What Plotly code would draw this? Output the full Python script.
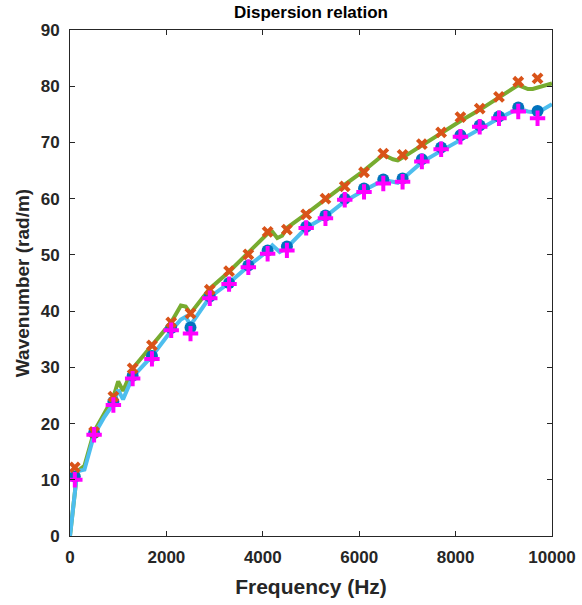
import plotly.graph_objects as go

# marker frequencies (Hz)
f_pts = [100, 500, 900, 1300, 1700, 2100, 2500, 2900, 3300, 3700, 4100, 4500, 4900,
         5300, 5700, 6100, 6500, 6900, 7300, 7700, 8100, 8500, 8900, 9300, 9700]
k_x = [12.2, 18.5, 24.8, 29.8, 33.9, 38.0, 39.6, 43.8, 47.1, 50.1, 54.1, 54.5, 57.2,
       60.0, 62.2, 64.7, 68.0, 67.8, 69.7, 71.8, 74.5, 76.0, 78.1, 80.8, 81.4]
k_o = [10.6, 18.3, 23.9, 28.5, 32.0, 37.0, 37.1, 42.6, 45.0, 48.1, 50.8, 51.5, 55.0,
       57.0, 60.0, 61.8, 63.4, 63.6, 67.0, 69.1, 71.3, 73.0, 74.6, 76.2, 75.6]
k_p = [10.0, 18.0, 23.3, 28.0, 31.5, 36.6, 36.0, 42.3, 44.8, 47.8, 50.2, 50.8, 54.8,
       56.5, 59.8, 61.2, 62.7, 63.0, 66.6, 68.8, 71.0, 72.8, 74.3, 75.5, 74.3]

# green curve
f_g = [0, 150, 300, 500, 700, 900, 1000, 1100, 1300, 1700, 2100, 2300, 2400, 2500, 2900,
       3300, 3700, 4100, 4200, 4300, 4400, 4500, 4900, 5300, 5700, 6100, 6500, 6700, 6800,
       6900, 7300, 7700, 8100, 8500, 8900, 9200, 9300, 9500, 9600, 10000]
k_g = [0, 11.5, 12.5, 18.6, 21.6, 24.7, 27.5, 25.8, 29.8, 34.0, 38.0, 41.0, 40.8, 39.6, 44.0,
       47.0, 50.3, 53.8, 54.1, 53.0, 53.4, 54.8, 57.3, 60.0, 62.5, 65.0, 67.8, 67.0, 66.8,
       67.3, 69.5, 71.6, 73.8, 75.8, 78.0, 79.8, 80.2, 79.5, 79.5, 80.5]

# cyan curve
f_c = [0, 150, 300, 500, 700, 900, 1000, 1100, 1300, 1700, 2100, 2300, 2400, 2500, 2900,
       3300, 3700, 4100, 4200, 4350, 4500, 4900, 5300, 5700, 6100, 6500, 6700, 6800, 6900,
       7300, 7700, 8100, 8500, 8900, 9300, 9500, 9700, 10000]
k_c = [0, 11.5, 11.8, 18.0, 21.0, 23.5, 26.0, 24.3, 28.3, 32.0, 36.5, 38.5, 39.0, 37.5, 42.5,
       45.0, 48.0, 50.7, 51.7, 50.5, 51.3, 54.8, 56.8, 59.5, 61.5, 63.3, 63.0, 62.8, 63.5,
       66.5, 68.5, 70.5, 72.5, 74.3, 76.0, 75.5, 75.3, 76.8]

x_ticks = [0, 2000, 4000, 6000, 8000, 10000]
y_ticks = [0, 10, 20, 30, 40, 50, 60, 70, 80, 90]

FONT = "Liberation Sans, Arial"

fig = go.Figure()
fig.add_trace(go.Scatter(x=f_g, y=k_g, mode="lines", line=dict(color="#77AC30", width=4)))
fig.add_trace(go.Scatter(x=f_c, y=k_c, mode="lines", line=dict(color="#4DBEEE", width=4)))
fig.add_trace(go.Scatter(x=f_pts, y=k_o, mode="markers",
                         marker=dict(symbol="circle", size=12, color="#0072BD")))
fig.add_trace(go.Scatter(x=f_pts, y=k_x, mode="markers",
                         marker=dict(symbol="x-thin", size=9, color="#D95319",
                                     line=dict(width=4, color="#D95319"))))
fig.add_trace(go.Scatter(x=f_pts, y=k_p, mode="markers",
                         marker=dict(symbol="cross-thin", size=11, color="#FF00FF",
                                     line=dict(width=4, color="#FF00FF"))))

axis_common = dict(showgrid=False, zeroline=False, showline=True, linecolor="#262626",
                   linewidth=1, mirror="ticks", ticks="inside", ticklen=5,
                   tickcolor="#262626", automargin=False,
                   tickfont=dict(family=FONT, size=17, color="#262626"))

fig.update_layout(
    width=582, height=605,
    margin=dict(l=70, r=30, t=30, b=69),
    paper_bgcolor="white", plot_bgcolor="white",
    showlegend=False,
    title=dict(text="<b>Dispersion relation</b>", x=0.5, xanchor="center",
               xref="paper", y=1 - 12 / 605, yref="container", yanchor="middle",
               font=dict(family=FONT, size=17, color="black")),
    xaxis=dict(range=[0, 10000], tickvals=x_ticks, ticktext=[f"<b>{v}</b>" for v in x_ticks],
               ticklabelstandoff=6,
               title=dict(text="<b>Frequency (Hz)</b>", standoff=12,
                          font=dict(family=FONT, size=21, color="#262626")),
               **axis_common),
    yaxis=dict(range=[0, 90], tickvals=y_ticks, ticktext=[f"<b>{v}</b>" for v in y_ticks],
               ticklabelstandoff=6,
               title=dict(text="<b>Wavenumber (rad/m)</b>", standoff=6,
                          font=dict(family=FONT, size=19, color="#262626")),
               **axis_common),
)

fig.write_html("out.html")
